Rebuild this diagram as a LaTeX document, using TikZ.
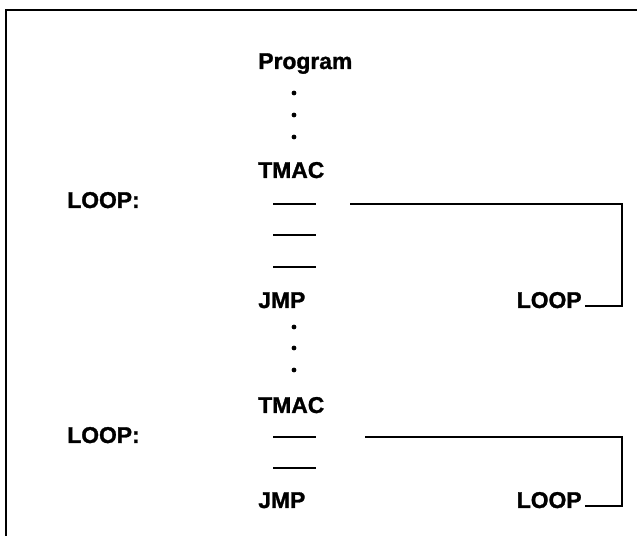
\documentclass[tikz,border=0pt]{standalone}
\usepackage{fontspec}
\setmainfont{Liberation Sans}[FakeBold=1.3]
\usetikzlibrary{calc}

\begin{document}
\begin{tikzpicture}[x=0.02cm,y=-0.02cm,
  code/.style={anchor=base west,inner sep=0pt,font=\fontsize{13}{15}\selectfont\bfseries},
  target/.style={code,inner xsep=2pt},
  rule/.style={line width=1.2pt},
  link/.style={line width=1.2pt},
  frame/.style={line width=1.2pt}
]
\useasboundingbox (0,0) rectangle (637,536);
\draw[frame] (6,536) -- (6,10) -- (637,10);

% first macro call
\node[code] (prog) at (258,69) {Program};
\fill (294,93) circle (2.4);
\fill (294,115) circle (2.4);
\fill (294,137) circle (2.4);
\node[code] (tmaca) at (258,178) {TMAC};
\node[code] (loopa) at (67,208) {LOOP:};
\draw[rule] (273,204) -- (316,204);
\draw[rule] (273,235) -- (316,235);
\draw[rule] (273,267) -- (316,267);
\node[code] (jmpa) at (258,308) {JMP};
\node[target] (targeta) at (513,308) {LOOP};
\coordinate (starta) at (350,204);
\coordinate (turna) at (622,306);
\draw[link] (starta) -| (turna) -- (turna -| targeta.east);

% second macro call
\fill (294,327) circle (2.4);
\fill (294,348) circle (2.4);
\fill (294,370) circle (2.4);
\node[code] (tmacb) at (258,413) {TMAC};
\node[code] (loopb) at (67,443) {LOOP:};
\draw[rule] (273,437) -- (316,437);
\draw[rule] (273,468) -- (316,468);
\node[code] (jmpb) at (258,508) {JMP};
\node[target] (targetb) at (513,508) {LOOP};
\coordinate (startb) at (365,437);
\coordinate (turnb) at (622,506);
\draw[link] (startb) -| (turnb) -- (turnb -| targetb.east);
\end{tikzpicture}
\end{document}
